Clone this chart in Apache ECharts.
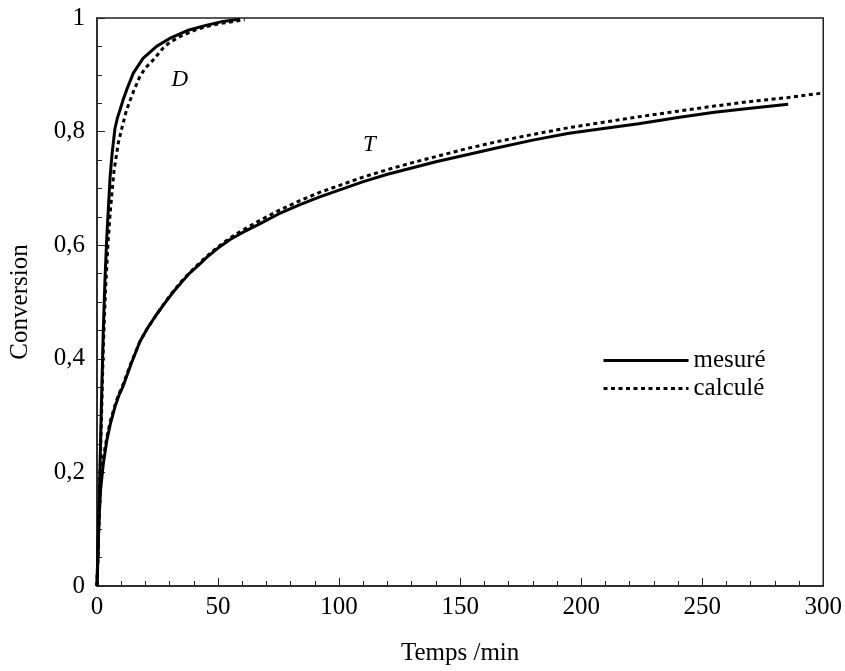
<!DOCTYPE html>
<html><head><meta charset="utf-8">
<script src="https://cdn.jsdelivr.net/npm/echarts@6/dist/echarts.min.js"></script>
<style>html,body{margin:0;padding:0;background:#fff}#c{width:845px;height:671px}</style>
</head><body><div id="c"></div>
<script>
// D - mesuré
const dMesTime = [0,0.5,1,1.5,2,2.6,3.3,4,4.7,5.4,6.2,7.4,8.5,9.5,10.8,12.2,15,19,24.6,30,38,45,52,59];
const dMesVal  = [0,0.07,0.16,0.26,0.35,0.45,0.54,0.61,0.665,0.72,0.76,0.805,0.825,0.838,0.856,0.873,0.903,0.929,0.95,0.964,0.979,0.987,0.994,0.998];
// D - calculé
const dCalTime = [0,0.5,1,1.5,2,2.6,3.5,4.5,5.5,7,8.8,10.5,12.2,15,17.7,20,23.2,27.3,30,34.2,40,45.2,52,61];
const dCalVal  = [0,0.06,0.15,0.24,0.32,0.42,0.52,0.6,0.66,0.73,0.78,0.81,0.838,0.87,0.897,0.912,0.926,0.947,0.957,0.967,0.978,0.985,0.991,0.997];
// T - mesuré
const tMesTime = [0,0.5,1,1.5,2.6,4,5.5,7.4,9,10.8,14,17.7,21,24.6,28,31.4,35,38.3,42,45.2,50,55,60,67,75,83.6,92,100,110,120,130,140,153.7,165,180,195,210,223.7,240,255,270,285.5];
const tMesVal  = [0,0.08,0.13,0.17,0.215,0.255,0.285,0.315,0.335,0.352,0.39,0.43,0.455,0.478,0.498,0.517,0.535,0.551,0.565,0.578,0.595,0.61,0.622,0.637,0.655,0.671,0.685,0.697,0.712,0.725,0.736,0.747,0.76,0.771,0.785,0.797,0.806,0.814,0.825,0.834,0.841,0.848];
// T - calculé
const tCalTime = [0,0.5,1,1.5,2.6,4,5.5,7.4,9,10.8,14,17.7,21,24.6,28,31.4,35,38.3,42,45.2,50,55,60,67,75,83.6,92,100,110,120,130,140,153.7,165,180,195,210,223.7,240,255,270,285.5,300];
const tCalVal  = [0,0.09,0.14,0.18,0.225,0.26,0.29,0.318,0.338,0.355,0.392,0.43,0.455,0.478,0.499,0.518,0.537,0.552,0.567,0.58,0.597,0.613,0.626,0.643,0.661,0.678,0.693,0.705,0.72,0.733,0.745,0.756,0.771,0.782,0.795,0.807,0.817,0.826,0.836,0.845,0.853,0.86,0.868];

const legendNames = ['mesuré','calculé'];
const curveLabels = ['D','T'];
const curveLabelPos = [[34.2, 0.891],[112.5, 0.777]];

const zip = (a,b) => a.map((x,i)=>[x,b[i]]);
const font = 'Liberation Serif';
const solid = {color:'#000', width:3, type:'solid'};
const dotted = {color:'#000', width:3, type:[4,3.5]};

const chart = echarts.init(document.getElementById('c'));
const option = {
  animation:false,
  backgroundColor:'#fff',
  textStyle:{fontFamily:font},
  grid:{left:97,right:20,top:18,bottom:84,show:true,borderColor:'#222',borderWidth:1.5,backgroundColor:'transparent'},
  legend:{
    data:legendNames, orient:'vertical', left:602, top:348, itemGap:3,
    itemWidth:85, itemHeight:14, padding:0,
    itemStyle:{opacity:0, borderWidth:0},
    lineStyle:{width:3, color:'#000'},
    textStyle:{fontFamily:font,fontSize:25,color:'#000'}
  },
  xAxis:{
    type:'value', min:0, max:300, interval:50,
    name:'Temps /min', nameLocation:'middle', nameGap:55,
    nameTextStyle:{fontFamily:font,fontSize:25,color:'#000'},
    axisLine:{show:true,lineStyle:{color:'#222',width:1.5}},
    axisTick:{show:true,inside:true,length:8,lineStyle:{color:'#222'}},
    minorTick:{show:true,splitNumber:5,length:5,lineStyle:{color:'#222'}},
    splitLine:{show:false},
    axisLabel:{fontFamily:font,fontSize:25,color:'#000',margin:9}
  },
  yAxis:{
    type:'value', min:0, max:1, interval:0.2,
    name:'Conversion', nameLocation:'middle', nameGap:64,
    nameTextStyle:{fontFamily:font,fontSize:25,color:'#000'},
    axisLine:{show:true,lineStyle:{color:'#222',width:1.5}},
    axisTick:{show:true,inside:true,length:8,lineStyle:{color:'#222'}},
    minorTick:{show:true,splitNumber:4,length:5,lineStyle:{color:'#222'}},
    splitLine:{show:false},
    axisLabel:{fontFamily:font,fontSize:25,color:'#000',margin:12,
      formatter:v=>String(+v.toFixed(1)).replace('.',',')}
  },
  series:[
    {name:legendNames[0],type:'line',data:zip(dMesTime,dMesVal),showSymbol:false,symbol:'none',lineStyle:solid,itemStyle:{color:'#000'},z:3},
    {name:legendNames[1],type:'line',data:zip(dCalTime,dCalVal),showSymbol:false,symbol:'none',lineStyle:dotted,itemStyle:{color:'#000'},z:2},
    {name:legendNames[0],type:'line',data:zip(tMesTime,tMesVal),showSymbol:false,symbol:'none',lineStyle:solid,itemStyle:{color:'#000'},z:3},
    {name:legendNames[1],type:'line',data:zip(tCalTime,tCalVal),showSymbol:false,symbol:'none',lineStyle:dotted,itemStyle:{color:'#000'},z:2,
      markPoint:{symbol:'circle',symbolSize:0,silent:true,
        label:{show:true,position:'inside',fontFamily:font,fontSize:23,fontStyle:'italic',color:'#000',formatter:p=>p.name},
        data:curveLabels.map((n,i)=>({name:n,coord:curveLabelPos[i]}))}}
  ]
};
chart.setOption(option);
</script></body></html>
